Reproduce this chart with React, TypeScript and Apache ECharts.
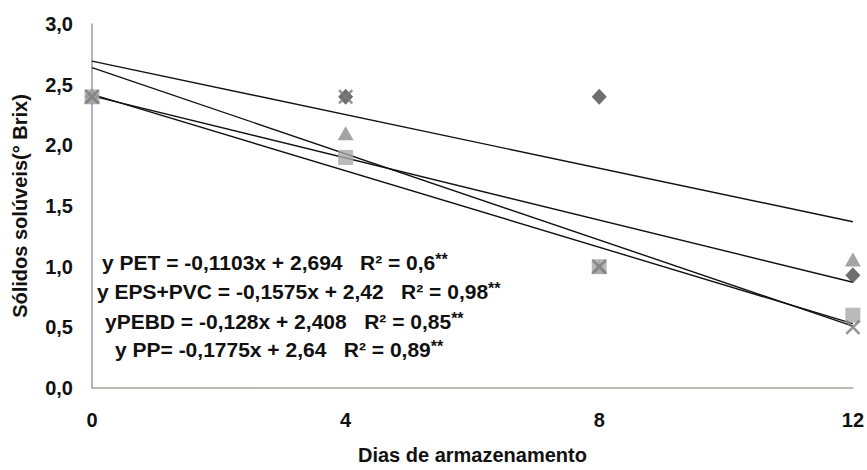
import React, { useEffect, useRef } from "react";
import * as echarts from "echarts";

// Storage days
const days = [0, 4, 8, 12];
// Soluble solids (°Brix) per packaging
const petValues = [2.4, 2.4, 2.4, 0.93];
const pebdValues = [2.4, 2.1, 1.0, 1.06];
const epsPvcValues = [2.4, 1.9, 1.0, 0.6];
const ppValues = [2.4, 2.4, 1.0, 0.5];
// Regression coefficients [slope, intercept]
const petFit = [-0.1103, 2.694];
const pebdFit = [-0.128, 2.408];
const epsPvcFit = [-0.1575, 2.42];
const ppFit = [-0.1775, 2.64];
// Equation labels
const equationLabels = [
  "y PET = -0,1103x + 2,694   R² = 0,6",
  "y EPS+PVC = -0,1575x + 2,42   R² = 0,98",
  "yPEBD = -0,128x + 2,408   R² = 0,85",
  "y PP= -0,1775x + 2,64   R² = 0,89",
];
const significance = "**";
const yTicks = { min: 0, max: 3, interval: 0.5 };
const xTicks = { min: 0, max: 12, interval: 4 };

const FONT = "'Liberation Sans', Arial, sans-serif";
const X_SYMBOL =
  "path://M0,1.2 L1.2,0 L10,8.8 L8.8,10 Z M8.8,0 L10,1.2 L1.2,10 L0,8.8 Z";

export default function App() {
  const ref = useRef<HTMLDivElement>(null);
  useEffect(() => {
    document.body.style.margin = "0";
    if (!ref.current) return;
    const chart = echarts.init(ref.current, undefined, { renderer: "svg" });
    const pts = (vals: number[]) => days.map((d, i) => [d, vals[i]]);
    const fitLine = (c: number[]) => [
      [xTicks.min, c[1] + c[0] * xTicks.min],
      [xTicks.max, c[1] + c[0] * xTicks.max],
    ];
    const lineSeries = (c: number[]) => ({
      type: "line",
      data: fitLine(c),
      symbol: "none",
      lineStyle: { color: "#111", width: 1.4 },
      z: 2,
      silent: true,
    });
    const eqPos = [
      [102, 263],
      [97, 292],
      [105, 322],
      [115, 350],
    ];
    chart.setOption({
      animation: false,
      backgroundColor: "#fff",
      grid: { left: 92, right: 14, top: 24, bottom: 77 },
      xAxis: {
        type: "value",
        min: xTicks.min,
        max: xTicks.max,
        interval: xTicks.interval,
        name: "Dias de armazenamento",
        nameLocation: "middle",
        nameGap: 57,
        nameTextStyle: { fontFamily: FONT, fontWeight: "bold", fontSize: 20, color: "#111" },
        axisLine: { show: true, lineStyle: { color: "#aaa39b", width: 1.5 } },
        axisTick: { show: false },
        splitLine: { show: false },
        axisLabel: {
          margin: 22,
          fontFamily: FONT,
          fontWeight: "bold",
          fontSize: 20,
          color: "#111",
          formatter: (v: number) => String(v),
        },
      },
      yAxis: {
        type: "value",
        min: yTicks.min,
        max: yTicks.max,
        interval: yTicks.interval,
        name: "Sólidos solúveis(° Brix)",
        nameLocation: "middle",
        nameGap: 62,
        nameRotate: 90,
        nameTextStyle: { fontFamily: FONT, fontWeight: "bold", fontSize: 20, color: "#111" },
        axisLine: { show: true, lineStyle: { color: "#8e9db2", width: 1.5 } },
        axisTick: { show: false },
        splitLine: { show: false },
        axisLabel: {
          margin: 19,
          fontFamily: FONT,
          fontWeight: "bold",
          fontSize: 20,
          color: "#111",
          formatter: (v: number) => v.toFixed(1).replace(".", ","),
        },
      },
      series: [
        lineSeries(petFit),
        lineSeries(pebdFit),
        lineSeries(epsPvcFit),
        lineSeries(ppFit),
        {
          name: "PET",
          type: "scatter",
          data: pts(petValues),
          symbol: "diamond",
          symbolSize: [15, 16],
          itemStyle: { color: "#4a4a4a" },
          z: 3,
        },
        {
          name: "PEBD",
          type: "scatter",
          data: pts(pebdValues),
          symbol: "triangle",
          symbolSize: [16, 14],
          itemStyle: { color: "#8c8c8c" },
          z: 3,
        },
        {
          name: "EPS+PVC",
          type: "scatter",
          data: pts(epsPvcValues),
          symbol: "rect",
          symbolSize: 15,
          itemStyle: { color: "#a9a9a9" },
          z: 3,
        },
        {
          name: "PP",
          type: "scatter",
          data: pts(ppValues),
          symbol: X_SYMBOL,
          symbolSize: 15,
          itemStyle: { color: "#7c7c7c" },
          z: 4,
        },
      ],
      graphic: equationLabels.map((t, i) => ({
        type: "text",
        left: eqPos[i][0],
        top: eqPos[i][1] - 12,
        style: {
          text: t + "{s|" + significance + "}",
          fontFamily: FONT,
          fontWeight: "bold",
          fontSize: 21,
          fill: "#111",
          rich: {
            s: {
              fontFamily: FONT,
              fontWeight: "bold",
              fontSize: 16,
              fill: "#111",
              verticalAlign: "top",
              padding: [0, 0, 6, 0],
            },
          },
        },
        z: 10,
      })),
    });
    return () => chart.dispose();
  }, []);
  return <div ref={ref} style={{ width: 867, height: 470 }} />;
}
